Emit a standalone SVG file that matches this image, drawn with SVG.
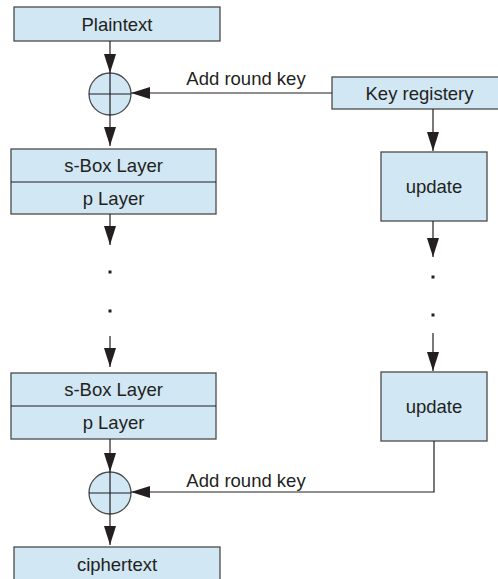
<svg xmlns="http://www.w3.org/2000/svg" width="498" height="579" viewBox="0 0 498 579">
  <style>
    .box { fill: #d1e7f4; stroke: #4a4a4a; stroke-width: 1.3; }
    .lbl { font-family: "Liberation Sans", Arial, sans-serif; font-size: 18.5px; fill: #231f20; text-anchor: middle; }
    .edge { fill: none; stroke: #231f20; stroke-width: 1.2; }
    .dot { fill: #231f20; }
  </style>
  <defs>
    <marker id="arrow" markerUnits="userSpaceOnUse" markerWidth="20" markerHeight="12" refX="19" refY="6" orient="auto">
      <path d="M0,0 L19,6 L0,12 Z" fill="#231f20"/>
    </marker>
  </defs>

  <rect width="498" height="579" fill="#ffffff"/>

  <!-- left column: cipher state -->
  <g id="plaintext">
    <rect class="box" x="14" y="7" width="206" height="34"/>
    <text class="lbl" x="117" y="30.5">Plaintext</text>
  </g>

  <g id="xor1">
    <circle class="box" cx="110" cy="94" r="21"/>
    <line class="edge" x1="89" y1="94" x2="131" y2="94"/>
    <line class="edge" x1="110" y1="73" x2="110" y2="115"/>
  </g>

  <g id="round1">
    <rect class="box" x="11" y="149" width="205" height="65"/>
    <line class="edge" x1="11" y1="182" x2="216" y2="182" stroke="#4a4a4a"/>
    <text class="lbl" x="113.5" y="172">s-Box Layer</text>
    <text class="lbl" x="113.5" y="204.5">p Layer</text>
  </g>

  <g id="round2">
    <rect class="box" x="11" y="373" width="205" height="66"/>
    <line class="edge" x1="11" y1="406" x2="216" y2="406" stroke="#4a4a4a"/>
    <text class="lbl" x="113.5" y="396">s-Box Layer</text>
    <text class="lbl" x="113.5" y="429">p Layer</text>
  </g>

  <g id="xor2">
    <circle class="box" cx="110" cy="493" r="21"/>
    <line class="edge" x1="89" y1="493" x2="131" y2="493"/>
    <line class="edge" x1="110" y1="472" x2="110" y2="514"/>
  </g>

  <g id="ciphertext">
    <rect class="box" x="14" y="547" width="206" height="40"/>
    <text class="lbl" x="117" y="571">ciphertext</text>
  </g>

  <!-- right column: key schedule -->
  <g id="key-registery">
    <rect class="box" x="332" y="77" width="172" height="32"/>
    <text class="lbl" x="419.5" y="99.5">Key registery</text>
  </g>

  <g id="update1">
    <rect class="box" x="381" y="152" width="106" height="69"/>
    <text class="lbl" x="434" y="193">update</text>
  </g>

  <g id="update2">
    <rect class="box" x="381" y="372" width="106" height="69"/>
    <text class="lbl" x="434" y="413">update</text>
  </g>

  <!-- connectors -->
  <g id="connectors">
    <line class="edge" x1="110" y1="41" x2="110" y2="73" marker-end="url(#arrow)"/>
    <line class="edge" x1="110" y1="115" x2="110" y2="146" marker-end="url(#arrow)"/>
    <line class="edge" x1="332" y1="93" x2="131" y2="93" marker-end="url(#arrow)"/>
    <text class="lbl" x="246" y="85">Add round key</text>

    <line class="edge" x1="110" y1="214" x2="110" y2="245" marker-end="url(#arrow)"/>
    <rect class="dot" x="108.5" y="270.5" width="3" height="3"/>
    <rect class="dot" x="108.5" y="309.5" width="3" height="3"/>
    <line class="edge" x1="110" y1="336" x2="110" y2="367" marker-end="url(#arrow)"/>

    <line class="edge" x1="433" y1="109" x2="433" y2="151" marker-end="url(#arrow)"/>
    <line class="edge" x1="433" y1="221" x2="433" y2="257" marker-end="url(#arrow)"/>
    <rect class="dot" x="431.5" y="275.5" width="3" height="3"/>
    <rect class="dot" x="431.5" y="313.5" width="3" height="3"/>
    <line class="edge" x1="433" y1="333" x2="433" y2="371" marker-end="url(#arrow)"/>

    <polyline class="edge" points="434,441 434,492 131,492" marker-end="url(#arrow)"/>
    <text class="lbl" x="246" y="487">Add round key</text>

    <line class="edge" x1="110" y1="439" x2="110" y2="472" marker-end="url(#arrow)"/>
    <line class="edge" x1="110" y1="514" x2="110" y2="545" marker-end="url(#arrow)"/>
  </g>
</svg>
